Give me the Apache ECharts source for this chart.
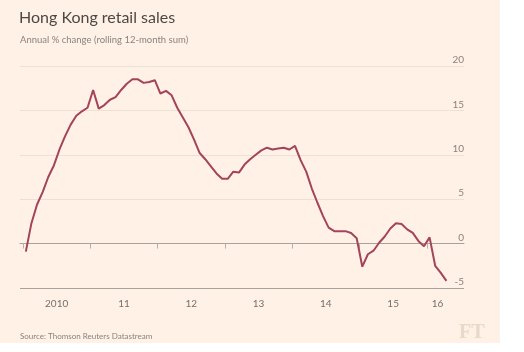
<!DOCTYPE html>
<html>
<head>
<meta charset="utf-8">
<script src="https://cdn.jsdelivr.net/npm/echarts@6/dist/echarts.min.js"></script>
<style>
  html, body { margin: 0; padding: 0; background: #fff; }
  #chart { width: 524px; height: 352px; }
</style>
</head>
<body>
<div id="chart"></div>
<script>
// monthly values, Jan 2010 .. Apr 2016
const startYear = 2010;
const retailSales = [
  -0.9, 2.3, 4.4, 5.8, 7.5, 8.8, 10.6, 12.1, 13.4, 14.4, 14.9, 15.3,
  17.3, 15.2, 15.6, 16.2, 16.5, 17.3, 18.0, 18.5, 18.5, 18.1, 18.2, 18.4,
  16.9, 17.2, 16.7, 15.3, 14.2, 13.1, 11.7, 10.2, 9.5, 8.7, 7.9, 7.3,
  7.3, 8.1, 8.0, 8.9, 9.5, 10.0, 10.5, 10.8, 10.6, 10.7, 10.8, 10.6,
  11.0, 9.4, 8.1, 6.2, 4.6, 3.1, 1.8, 1.4, 1.4, 1.4, 1.2, 0.6,
  -2.6, -1.2, -0.8, 0.1, 0.8, 1.7, 2.3, 2.2, 1.6, 1.2, 0.3, -0.3,
  0.7, -2.5, -3.3, -4.2
];
const yearTicks = [2010, 2011, 2012, 2013, 2014, 2015, 2016];
const yearLabelPos = [2010.5, 2011.5, 2012.5, 2013.5, 2014.5, 2015.5, 2016.16];
const yearLabels = ['2010', '11', '12', '13', '14', '15', '16'];

const seriesData = retailSales.map((v, i) => [startYear + (i + 0.5) / 12, v]);

const font = 'Lato, "Open Sans", sans-serif';
const chart = echarts.init(document.getElementById('chart'));
chart.setOption({
  animation: false,
  textStyle: { fontFamily: font },
  graphic: [
    { type: 'rect', z: -10, shape: { x: 0, y: 0, width: 500, height: 343 }, style: { fill: '#fff1e5' } },
    { type: 'text', left: 19, top: 10, style: { text: 'Hong Kong retail sales', fontSize: 16, fill: '#4d4845', fontFamily: font } },
    { type: 'text', left: 20, top: 35, style: { text: 'Annual % change (rolling 12-month sum)', fontSize: 9.5, fill: '#8a837d', fontFamily: font } },
    { type: 'text', left: 20, top: 332, style: { text: 'Source: Thomson Reuters Datastream', fontSize: 8, fill: '#8a837d', fontFamily: font } },
    { type: 'text', left: 459, top: 323, style: { text: 'FT', fontSize: 20, fill: '#e6dacb', fontFamily: 'Liberation Serif, serif', fontWeight: 'bold' } }
  ],
  grid: { left: 20, right: 60, top: 66, bottom: 64 },
  xAxis: {
    type: 'value',
    min: 2009.955,
    max: 2016.553,
    axisLine: { lineStyle: { color: '#a9a29b', width: 1 } },
    axisTick: { customValues: yearTicks, length: 5, lineStyle: { color: '#b8b0a8' } },
    axisLabel: {
      customValues: yearLabelPos,
      formatter: v => yearLabels[yearLabelPos.indexOf(v)] || '',
      color: '#74706b', fontSize: 10, margin: 11
    },
    splitLine: { show: false }
  },
  yAxis: {
    type: 'value',
    position: 'right',
    min: -5, max: 20, interval: 5,
    axisLine: { show: false },
    axisTick: { show: false },
    axisLabel: {
      inside: true, margin: 0, verticalAlign: 'bottom', padding: [0, 0, 1, 0],
      color: '#8a837d', fontSize: 10
    },
    splitLine: {
      lineStyle: { color: ['#a9a29b', '#c9c0b6', '#ede1d3', '#ede1d3', '#ede1d3', '#ede1d3'], width: 1 }
    }
  },
  series: [{
    type: 'line',
    data: seriesData,
    showSymbol: false,
    lineStyle: { color: '#a2445a', width: 2 }
  }]
});
</script>
</body>
</html>
